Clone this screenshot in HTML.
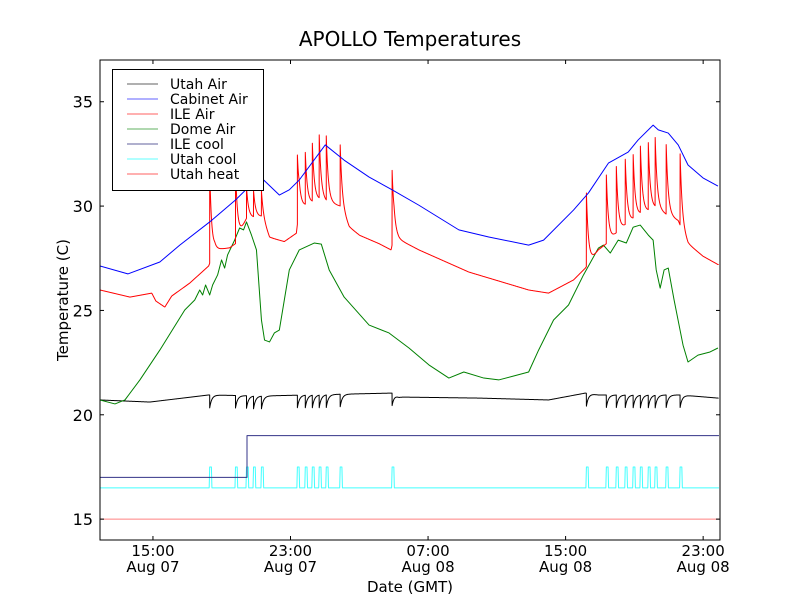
<!DOCTYPE html>
<html><head><meta charset="utf-8">
<style>
html,body{margin:0;padding:0;background:#fff;}
svg{display:block;font-family:"DejaVu Sans","Liberation Sans",sans-serif;}
</style></head>
<body>
<svg id="chart" width="800" height="600" viewBox="0 0 800 600" xmlns="http://www.w3.org/2000/svg">
<rect x="0" y="0" width="800" height="600" fill="#fff"/>
<text x="410" y="46" text-anchor="middle" font-size="20">APOLLO Temperatures</text>
<g id="plot"></g>
<g id="axes"></g>
<text x="410" y="592" text-anchor="middle" font-size="15">Date (GMT)</text>
<text transform="translate(68,300) rotate(-90)" text-anchor="middle" font-size="15">Temperature (C)</text>
<g id="legend"></g>
</svg>
<script>
// ---- data (hours since Aug 07 00:00 GMT as logged, temperatures in C) ----
const xTickHours = [15, 23, 31, 39, 47];
const xTickTime = ["15:00", "23:00", "07:00", "15:00", "23:00"];
const xTickDate = ["Aug 07", "Aug 07", "Aug 08", "Aug 08", "Aug 08"];
const yTicks = [15, 20, 25, 30, 35];

const cabinetT = [11.40,13.02,14.88,16.04,17.78,19.28,20.10,20.79,21.83,22.41,22.99,24.50,25.60,27.05,28.39,29.95,32.27,34.01,36.33,37.20,38.94,39.81,40.97,42.12,42.70,43.57,43.87,44.45,45.03,45.60,46.47,47.34];
const cabinetV = [27.13,26.75,27.32,28.13,29.24,30.29,30.96,31.35,30.53,30.78,31.25,32.93,32.20,31.39,30.78,30.04,28.86,28.52,28.13,28.37,29.81,30.63,32.06,32.59,33.17,33.88,33.65,33.50,32.93,31.97,31.35,30.96];

const ileBaseT = [11.40,13.14,14.41,14.65,15.17,15.57,16.62,17.72,18.07,18.94,19.28,19.92,20.79,21.26,22.12,22.82,22.99,24.15,25.37,25.89,26.50,27.63,28.33,28.50,28.79,29.95,32.85,36.33,37.49,38.94,39.63,40.39,40.85,41.43,42.12,42.82,43.69,44.33,45.03,45.60,46.47,47.34];
const ileBaseV = [25.98,25.64,25.83,25.45,25.16,25.69,26.31,27.13,27.90,28.00,28.20,29.40,29.50,28.50,28.30,28.70,29.90,30.30,30.00,29.00,28.60,28.20,27.90,28.60,28.40,27.90,26.84,25.98,25.83,26.46,27.03,27.90,28.20,28.70,29.20,29.60,29.90,29.60,29.30,28.20,27.60,27.20];
const heatSpikeT = [17.78,19.28,19.92,20.33,20.79,22.88,23.34,23.75,24.15,24.56,25.37,28.39,39.69,40.85,41.43,41.95,42.41,42.83,43.29,43.69,44.33,45.14];
const ileSpikePeak = [31.8,31.9,30.9,30.7,30.7,32.45,32.5,32.93,33.31,33.26,32.93,31.71,30.63,31.49,31.87,32.2,32.4,32.78,32.97,33.17,32.93,32.5];

const domeT = [11.40,12.27,12.85,13.72,14.88,16.33,16.91,17.20,17.37,17.54,17.78,17.95,18.24,18.47,18.65,18.82,19.23,19.52,19.75,19.92,20.21,20.50,20.79,20.97,21.26,21.54,21.83,22.12,22.41,22.99,23.86,24.27,24.73,25.60,27.05,28.21,29.37,30.53,31.69,32.56,33.72,34.59,35.46,36.33,36.91,37.78,38.65,39.52,40.39,40.68,41.08,41.54,42.01,42.41,42.82,43.29,43.57,43.75,43.98,44.21,44.45,44.79,45.31,45.60,46.18,46.88,47.34];
const domeV = [20.71,20.52,20.71,21.67,23.10,25.02,25.50,25.98,25.74,26.22,25.74,26.22,26.70,27.42,27.03,27.66,28.37,28.95,28.86,29.24,28.61,27.90,24.54,23.58,23.49,23.92,24.06,25.50,26.94,27.90,28.23,28.18,26.94,25.64,24.30,23.92,23.20,22.39,21.76,22.05,21.76,21.67,21.86,22.05,23.10,24.54,25.26,26.70,27.99,28.13,27.75,28.37,28.23,28.99,29.09,28.61,28.37,26.94,26.07,26.94,27.03,25.50,23.34,22.53,22.86,23.01,23.20];

const utahBaseT = [11.40,14.30,17.72,20.79,28.39,28.79,33.43,37.49,39.63,40.39,45.14,47.34];
const utahBaseV = [20.71,20.61,20.95,20.90,21.04,20.85,20.80,20.71,21.04,20.95,20.95,20.80];
const utahDip = [0.62,0.6,0.6,0.6,0.6,0.6,0.6,0.6,0.6,0.6,0.6,0.6,0.62,0.6,0.6,0.6,0.6,0.6,0.6,0.6,0.6,0.6];

const ileCoolT = [11.40,19.95,19.95,47.40];
const ileCoolV = [17.0,17.0,19.0,19.0];
const utahCoolOff = 16.5, utahCoolOn = 17.5;
const utahHeatT = [11.40,47.40];
const utahHeatV = [15.0,15.0];

// ---- axes ----
const L=100,R=720,T=60,B=540;
const xMin=11.92,xMax=47.98,yMin=14,yMax=37;
const tShift=0.52; // logged hours -> axis hours
function sx(h){return L+(h-xMin)/(xMax-xMin)*(R-L);}
function sxd(t){return sx(t+tShift);}
function sy(v){return B-(v-yMin)/(yMax-yMin)*(B-T);}
function interp(ts,vs,t){
  if(t<=ts[0])return vs[0];
  for(let i=1;i<ts.length;i++){if(t<=ts[i]){const f=(t-ts[i-1])/(ts[i]-ts[i-1]||1);return vs[i-1]+f*(vs[i]-vs[i-1]);}}
  return vs[vs.length-1];
}
const NS="http://www.w3.org/2000/svg";
const plot=document.getElementById('plot');
const axes=document.getElementById('axes');
function mk(tag,attrs,parent){const e=document.createElementNS(NS,tag);for(const k in attrs)e.setAttribute(k,attrs[k]);parent.appendChild(e);return e;}

const defs=mk('defs',{},plot);
const cp=mk('clipPath',{id:'clip'},defs);
mk('rect',{x:L,y:T,width:R-L,height:B-T},cp);
plot.setAttribute('clip-path','url(#clip)');

function line(ts,vs,color,name,w){
  let d='';
  for(let i=0;i<ts.length;i++)d+=(i?'L':'M')+sxd(ts[i]).toFixed(2)+','+sy(vs[i]).toFixed(2);
  const p=mk('path',{d:d,fill:'none',stroke:color,'stroke-width':w||1,'stroke-linejoin':'round'},plot);
  
  
  return p;
}
function sampleTimes(){
  const s=[];
  for(let t=11.40;t<=47.40;t+=0.02)s.push(t);
  heatSpikeT.forEach(ts=>{s.push(ts-0.005);s.push(ts);s.push(ts+0.005);s.push(ts+0.1);s.push(ts+0.105);});
  return s.sort((a,b)=>a-b);
}
const ST=sampleTimes();

line(utahHeatT,utahHeatV,'#ff8080','utah-heat-line');
(function(){
  const t=[],v=[];
  t.push(11.40);v.push(utahCoolOff);
  heatSpikeT.forEach(ts=>{t.push(ts-0.03,ts,ts+0.1,ts+0.13);v.push(utahCoolOff,utahCoolOn,utahCoolOn,utahCoolOff);});
  t.push(47.4);v.push(utahCoolOff);
  line(t,v,'#40ffff','utah-cool-line');
})();
line(ileCoolT,ileCoolV,'#333388','ile-cool-line');
(function(){
  const v=ST.map(t=>{let b=interp(utahBaseT,utahBaseV,t);heatSpikeT.forEach((ts,i)=>{if(t>=ts)b-=utahDip[i]*Math.exp(-(t-ts)/0.12);});return b;});
  line(ST,v,'#000000','utah-air-line');
})();
line(domeT,domeV,'#008000','dome-air-line');
(function(){
  const v=ST.map(t=>{let b=interp(ileBaseT,ileBaseV,t);heatSpikeT.forEach((ts,i)=>{if(t>=ts){const a=ileSpikePeak[i]-interp(ileBaseT,ileBaseV,ts);b+=a*Math.exp(-(t-ts)/0.12);}});return b;});
  line(ST,v,'#ff0000','ile-air-line');
})();
line(cabinetT,cabinetV,'#0000ff','cabinet-air-line');

const fr=mk('rect',{x:L,y:T,width:R-L,height:B-T,fill:'none',stroke:'#000','stroke-width':1},axes);


yTicks.forEach(v=>{
  const y=sy(v);
  mk('line',{x1:L,x2:L+4,y1:y,y2:y,stroke:'#000'},axes);
  mk('line',{x1:R,x2:R-4,y1:y,y2:y,stroke:'#000'},axes);
  const t=mk('text',{x:L-7,y:y+6,'text-anchor':'end','font-size':'16'},axes);
  t.textContent=v;
  
  
});
xTickHours.forEach((h,i)=>{
  const x=sx(h);
  mk('line',{x1:x,x2:x,y1:B,y2:B-4,stroke:'#000'},axes);
  mk('line',{x1:x,x2:x,y1:T,y2:T+4,stroke:'#000'},axes);
  const t1=mk('text',{x:x,y:556,'text-anchor':'middle','font-size':'15'},axes);
  t1.textContent=xTickTime[i];
  
  
  const t2=mk('text',{x:x,y:572,'text-anchor':'middle','font-size':'15'},axes);
  t2.textContent=xTickDate[i];
  
  
});

const lg=document.getElementById('legend');
const legNames=["Utah Air","Cabinet Air","ILE Air","Dome Air","ILE cool","Utah cool","Utah heat"];
const legColors=["#808080","#8080ff","#ff8080","#80c080","#8080b0","#80ffff","#ff8080"];
mk('rect',{x:112.5,y:69.5,width:151,height:121,fill:'#fff',stroke:'#000','stroke-width':1},lg);
legNames.forEach((n,i)=>{
  const y=84+i*15;
  const g=mk('g',{},lg);
  
  
  mk('line',{x1:127,x2:158,y1:y,y2:y,stroke:legColors[i],'stroke-width':1.2},g);
  const t=mk('text',{x:170,y:y+5,'font-size':'14'},g);
  t.textContent=n;
});
</script>
</body></html>
